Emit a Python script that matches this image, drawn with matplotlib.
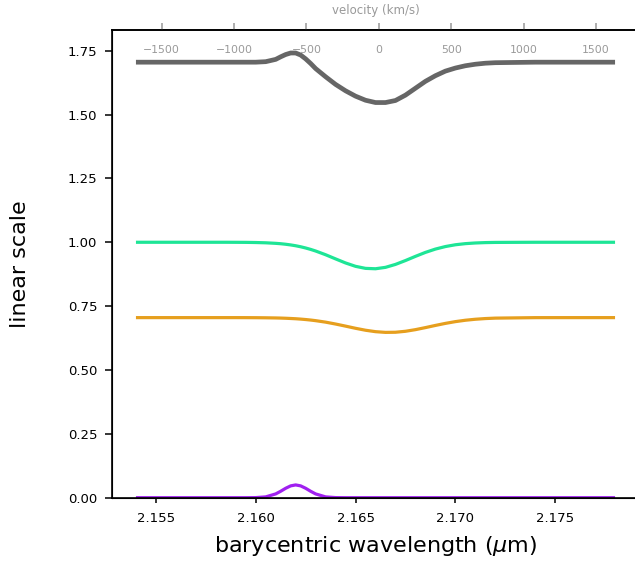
import matplotlib
matplotlib.use("Agg")
from matplotlib import pyplot as plt
import numpy as np

# wavelength grid (micron)
wave = [2.1540, 2.1560, 2.1580, 2.1585, 2.1590, 2.1595, 2.1600, 2.1605,
        2.1610, 2.16125, 2.1615, 2.16175, 2.1620, 2.16225, 2.1625, 2.16275,
        2.1630, 2.1635, 2.1640, 2.1645, 2.1650, 2.1655, 2.1660, 2.1665,
        2.1670, 2.1675, 2.1680, 2.1685, 2.1690, 2.1695, 2.1700, 2.1705,
        2.1710, 2.1715, 2.1720, 2.1740, 2.1760, 2.1780]

# total profile (grey)
total = [1.705, 1.705, 1.705, 1.705, 1.705, 1.705, 1.705, 1.707,
         1.716, 1.726, 1.735, 1.741, 1.741, 1.733, 1.718, 1.700,
         1.680, 1.648, 1.618, 1.593, 1.572, 1.556, 1.547, 1.547,
         1.555, 1.576, 1.603, 1.630, 1.652, 1.670, 1.682, 1.691,
         1.697, 1.701, 1.703, 1.705, 1.705, 1.705]

# absorption component 1 (green)
comp_a = [1.000, 1.000, 1.000, 1.000, 0.9998, 0.9996, 0.9990, 0.9979,
          0.9958, 0.9943, 0.9922, 0.9896, 0.9864, 0.9824, 0.9776, 0.9721,
          0.9658, 0.9512, 0.9349, 0.9190, 0.9058, 0.8978, 0.8963, 0.9018,
          0.9133, 0.9284, 0.9448, 0.9603, 0.9733, 0.9832, 0.9902, 0.9946,
          0.9972, 0.9987, 0.9994, 1.000, 1.000, 1.000]

# absorption component 2 (orange)
comp_b = [0.705, 0.705, 0.705, 0.705, 0.705, 0.7049, 0.7047, 0.7043,
          0.7037, 0.7032, 0.7025, 0.7016, 0.7006, 0.6992, 0.6975, 0.6955,
          0.6931, 0.6873, 0.6799, 0.6717, 0.6632, 0.6556, 0.6500, 0.6472,
          0.6477, 0.6515, 0.6579, 0.6659, 0.6744, 0.6824, 0.6893, 0.6947,
          0.6986, 0.7013, 0.7030, 0.7049, 0.705, 0.705]

# emission component (purple)
comp_c = [0.0, 0.0, 0.0, 0.0, 0.0, 0.0, 0.0004, 0.0032,
          0.0148, 0.0252, 0.0369, 0.0463, 0.0500, 0.0463, 0.0369, 0.0252,
          0.0148, 0.0032, 0.0004, 0.0, 0.0, 0.0, 0.0, 0.0,
          0.0, 0.0, 0.0, 0.0, 0.0, 0.0, 0.0, 0.0,
          0.0, 0.0, 0.0, 0.0, 0.0, 0.0]

vel_lim = [-1843, 1796]

fig = plt.figure(figsize=(6.35, 5.61), dpi=100)
ax = fig.add_axes([112 / 635, 63.3 / 561, 527 / 635, 467.7 / 561])

kw = dict(solid_joinstyle="round", solid_capstyle="butt")
ax.plot(wave, total, color="#666666", lw=3.4, **kw)
ax.plot(wave, comp_a, color="#1ee596", lw=2.3, **kw)
ax.plot(wave, comp_b, color="#e69f1e", lw=2.3, **kw)
ax.plot(wave, comp_c, color="#a020f0", lw=2.3, **kw)

ax.set_ylim(0, 1.831)
ax.set_xticks([2.155, 2.160, 2.165, 2.170, 2.175])
ax.set_xlabel(r"barycentric wavelength ($\mu$m)", fontsize=16, labelpad=6)
ax.set_ylabel("linear scale", fontsize=16)
ax.yaxis.set_label_coords(-0.155, 0.5)
ax.spines["right"].set_visible(False)
for s in ["left", "bottom", "top"]:
    ax.spines[s].set_linewidth(1.2)
ax.tick_params(axis="x", labelsize=9.5, length=3.5, pad=7, width=1.1)
ax.tick_params(axis="y", labelsize=9.5, length=5, pad=5.5, width=1.1)

# velocity axis on top
ax2 = ax.twiny()
ax2.set_xlim(vel_lim)
ax2.spines["right"].set_visible(False)
ax2.spines["top"].set_linewidth(1.2)
ax2.tick_params(axis="x", colors="#999999", labelsize=7.8, length=4.7,
                width=1.1, pad=-23)
ax2.set_xlabel("velocity (km/s)", color="#999999", fontsize=8.5, labelpad=6.5)

fig.savefig("out.png", dpi=100)
